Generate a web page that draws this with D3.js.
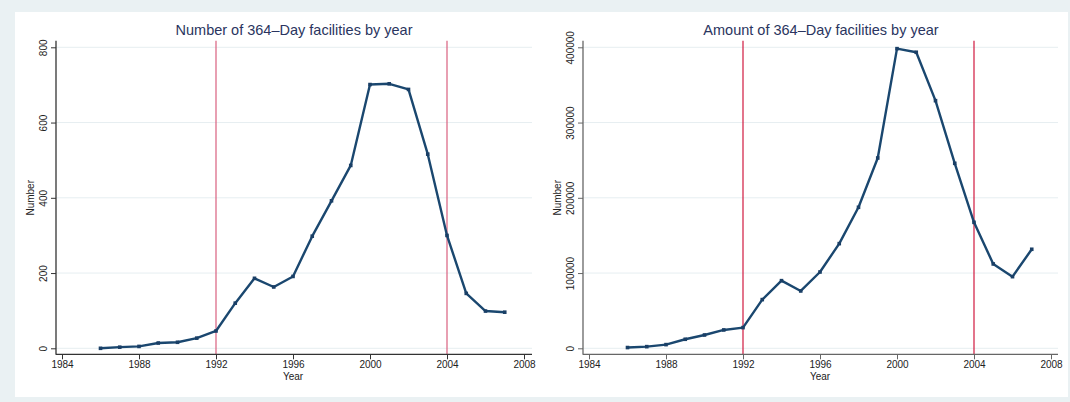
<!DOCTYPE html>
<html>
<head>
<meta charset="utf-8">
<script src="https://cdn.jsdelivr.net/npm/d3@7"></script>
<style>
  html, body { margin: 0; padding: 0; background: #eaf1f3; }
  svg { display: block; font-family: "Liberation Sans", Arial, sans-serif; }
</style>
</head>
<body>
<svg id="chart" width="1070" height="402"></svg>
<script>
// Yearly series for 364-day facilities
const years = [1986, 1987, 1988, 1989, 1990, 1991, 1992, 1993, 1994, 1995, 1996,
               1997, 1998, 1999, 2000, 2001, 2002, 2003, 2004, 2005, 2006, 2007];
const facilityCounts = [0, 3, 5, 14, 16, 27, 46, 120, 186, 163, 191,
                        298, 392, 486, 701, 703, 688, 516, 300, 146, 99, 96];
const facilityAmounts = [1000, 2200, 4900, 12000, 17700, 24400, 27500, 64700, 89900, 76200, 101400,
                         139100, 187400, 252900, 398200, 393400, 329100, 245800, 167400, 112100, 95200, 131600];
const xTicks = [1984, 1988, 1992, 1996, 2000, 2004, 2008];
const countTicks = [0, 200, 400, 600, 800];
const amountTicks = [0, 100000, 200000, 300000, 400000];
const markerYears = [1992, 2004];

const svg = d3.select("#chart");

// white panel behind both graphs
svg.append("rect").attr("x", 15).attr("y", 12).attr("width", 1053).attr("height", 385).attr("fill", "#ffffff");

function drawPanel(opts) {
  const g = svg.append("g");
  const x = d3.scaleLinear().domain([1984, 2008]).range([opts.x0, opts.x1]);
  const y = d3.scaleLinear().domain([0, opts.yMax]).range([opts.yBottom, opts.yTop]);
  const axisX = opts.axisLeft, axisY = opts.axisBottom;

  // horizontal gridlines
  g.selectAll("line.grid").data(opts.yTicks).join("line")
    .attr("x1", axisX).attr("x2", opts.plotRight)
    .attr("y1", d => y(d)).attr("y2", d => y(d))
    .attr("stroke", "#e6eef1").attr("stroke-width", 1);

  // reference lines
  g.selectAll("line.ref").data(markerYears).join("line")
    .attr("x1", d => x(d)).attr("x2", d => x(d))
    .attr("y1", opts.plotTop).attr("y2", axisY)
    .attr("stroke", opts.refColor).attr("stroke-width", 1.2);

  // y axis
  const ya = g.append("g").attr("transform", `translate(${axisX},0)`)
    .call(d3.axisLeft(y).tickValues(opts.yTicks).tickSize(5).tickSizeOuter(0).tickFormat(d3.format("d")));
  ya.select(".domain").remove();
  ya.append("line").attr("x1", 0).attr("x2", 0).attr("y1", opts.plotTop).attr("y2", axisY + 0.5)
    .attr("stroke", opts.axisColor).attr("stroke-width", 1.3);
  ya.selectAll(".tick line").attr("stroke", opts.axisColor);
  ya.selectAll(".tick text")
    .attr("transform", "rotate(-90)")
    .attr("x", 0).attr("y", -9).attr("dy", 0)
    .attr("text-anchor", "middle")
    .attr("font-size", 10).attr("fill", "#222");

  // x axis
  const xa = g.append("g").attr("transform", `translate(0,${axisY})`)
    .call(d3.axisBottom(x).tickValues(xTicks).tickSize(5).tickSizeOuter(0).tickFormat(d3.format("d")));
  xa.select(".domain").remove();
  xa.append("line").attr("x1", axisX).attr("x2", opts.plotRight).attr("y1", 0).attr("y2", 0)
    .attr("stroke", opts.axisColor).attr("stroke-width", 1.3);
  xa.selectAll(".tick line").attr("stroke", opts.axisColor);
  xa.selectAll(".tick text").attr("y", 7).attr("font-size", 10).attr("fill", "#222");

  // axis titles
  g.append("text").attr("x", (opts.x0 + opts.x1) / 2).attr("y", axisY + 26)
    .attr("text-anchor", "middle").attr("font-size", 10).attr("fill", "#222").text("Year");
  g.append("text")
    .attr("transform", `translate(${opts.yLabelX},${(opts.yTop + opts.yBottom) / 2}) rotate(-90)`)
    .attr("text-anchor", "middle").attr("font-size", 10).attr("fill", "#222").text("Number");

  // title
  g.append("text").attr("x", opts.titleX).attr("y", 35)
    .attr("text-anchor", "middle").attr("font-size", 14.5).attr("fill", "#2a3560").text(opts.title);

  // series line
  const pts = years.map((yr, i) => [yr, opts.values[i]]);
  g.append("path").datum(pts)
    .attr("fill", "none").attr("stroke", "#1a476f").attr("stroke-width", 2.4)
    .attr("stroke-linejoin", "round")
    .attr("d", d3.line().x(d => x(d[0])).y(d => y(d[1])));

  // point markers
  g.selectAll("rect.pt").data(pts).join("rect")
    .attr("x", d => x(d[0]) - 1.8).attr("y", d => y(d[1]) - 1.8)
    .attr("width", 3.6).attr("height", 3.6).attr("fill", "#1a3f66");
}

drawPanel({
  title: "Number of 364\u2013Day facilities by year",
  values: facilityCounts, yMax: 800, yTicks: countTicks,
  x0: 62, x1: 524, yBottom: 348.3, yTop: 47.3,
  axisLeft: 56, axisBottom: 354.3, plotTop: 40.7, plotRight: 532,
  yLabelX: 34, titleX: 294, refColor: "#d9607f", axisColor: "#333"
});

drawPanel({
  title: "Amount of 364\u2013Day facilities by year",
  values: facilityAmounts, yMax: 400000, yTicks: amountTicks,
  x0: 589, x1: 1051, yBottom: 348.3, yTop: 47.3,
  axisLeft: 583, axisBottom: 354.3, plotTop: 40.7, plotRight: 1058,
  yLabelX: 561, titleX: 821, refColor: "#d0183f", axisColor: "#666"
});
</script>
</body>
</html>
